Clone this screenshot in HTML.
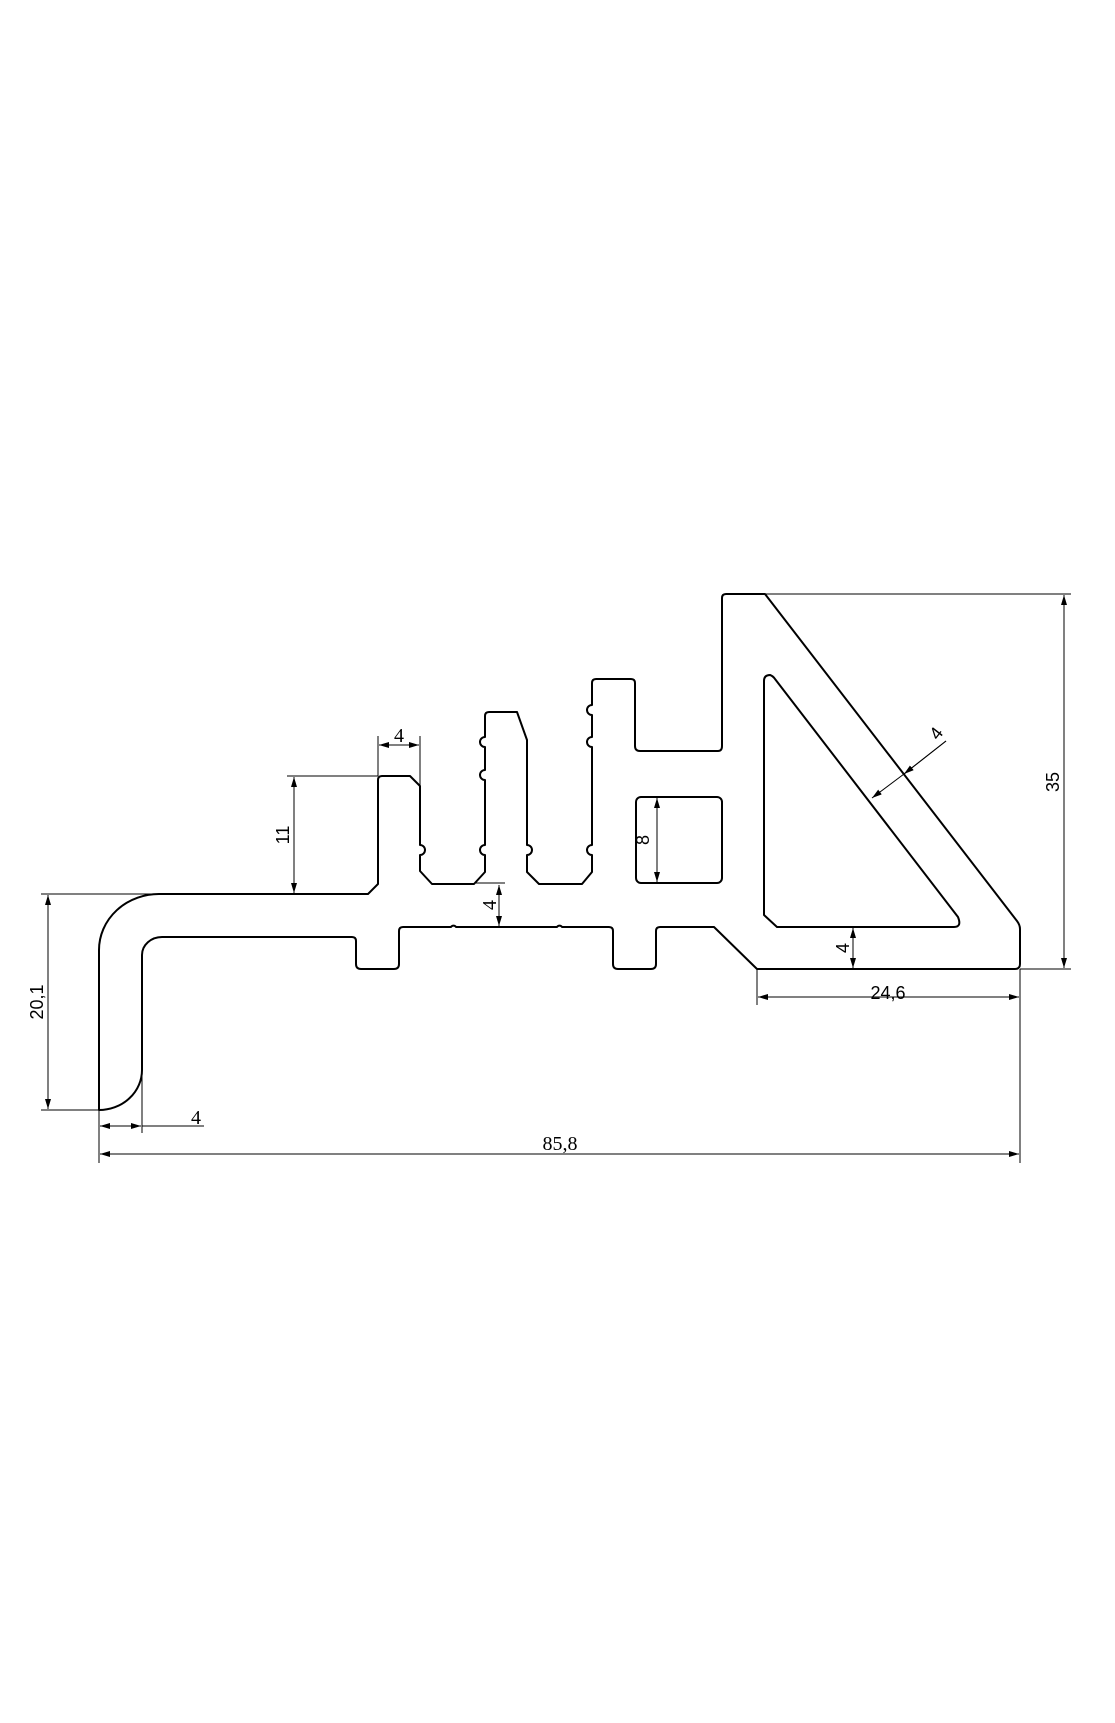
<!DOCTYPE html>
<html><head><meta charset="utf-8"><style>
html,body{margin:0;padding:0;background:#fff;}
svg{display:block;}
.s{font-family:"Liberation Sans",sans-serif;font-size:18px;fill:#000;}
.r{font-family:"Liberation Serif",serif;font-size:20px;fill:#000;}
</style></head><body>
<svg width="1115" height="1723" viewBox="0 0 1115 1723" xmlns="http://www.w3.org/2000/svg">
<defs>
<marker id="a" viewBox="0 0 10 6" refX="10" refY="3" markerWidth="10" markerHeight="6" markerUnits="userSpaceOnUse" orient="auto-start-reverse"><path d="M0 0 L10 3 L0 6 Z" fill="#000"/></marker>
</defs>
<g fill="none" stroke="#000" stroke-width="2" stroke-linejoin="round">
<path d="M99 1110 L99 950 A60 56 0 0 1 160 894 L368 894 L378 884 L378 780 Q378 776 382 776 L410 776 L420 786 L420 845 A5 5 0 0 1 420 855 L420 871 L432 884 L474 884 L485 872 L485 855 A5 5 0 0 1 485 845 L485 780 A5 5 0 0 1 485 770 L485 747 A5 5 0 0 1 485 737 L485 716 Q485 712 489 712 L517 712 L527 740 L527 845 A5 5 0 0 1 527 855 L527 872 L539 884 L582 884 L592 872 L592 855 A5 5 0 0 1 592 845 L592 747 A5 5 0 0 1 592 737 L592 715 A5 5 0 0 1 592 705 L592 683 Q592 679 596 679 L631 679 Q635 679 635 683 L635 746 Q635 751 640 751 L718 751 Q722 751 722 746 L722 598 Q722 594 726 594 L765 594 L1017 921 Q1020 925 1020 929 L1020 964 Q1020 969 1015 969 L757 969 L714 927 L660 927 Q656 927 656 931 L656 964 Q656 969 651 969 L618 969 Q613 969 613 964 L613 931 Q613 927 609 927 L562 927 A3 3 0 0 0 557 927 L456 927 A3 3 0 0 0 451 927 L403 927 Q399 927 399 931 L399 964 Q399 969 394 969 L361 969 Q356 969 356 964 L356 941 Q356 937 352 937 L162 937 A20 18 0 0 0 142 955 L142 1070 A43 40 0 0 1 99 1110 Z"/>
<rect x="636" y="797" width="86" height="86" rx="5"/>
<path d="M764 681 Q764 675 770 675 Q773 676 775 679 L958 917 Q962 927 954 927 L777 927 L764 915 Z"/>
</g>
<g stroke="#000" stroke-width="1" fill="none">
<!-- top 4 -->
<line x1="378" y1="736" x2="378" y2="776"/><line x1="420" y1="736" x2="420" y2="786"/>
<line x1="379" y1="745" x2="419" y2="745" marker-start="url(#a)" marker-end="url(#a)"/>
<!-- 11 -->
<line x1="287" y1="776" x2="378" y2="776"/>
<line x1="294" y1="777" x2="294" y2="893" marker-start="url(#a)" marker-end="url(#a)"/>
<!-- 4 web -->
<line x1="474" y1="883" x2="505" y2="883"/>
<line x1="499" y1="885" x2="499" y2="926" marker-start="url(#a)" marker-end="url(#a)"/>
<!-- 8 -->
<line x1="657" y1="798" x2="657" y2="882" marker-start="url(#a)" marker-end="url(#a)"/>
<!-- diag 4 -->
<line x1="946" y1="741" x2="904" y2="774"/>
<line x1="904" y1="774" x2="872" y2="798" marker-end="url(#a)"/>
<line x1="946" y1="741" x2="904" y2="774" marker-end="url(#a)"/>
<!-- 4 triangle bottom -->
<line x1="853" y1="928" x2="853" y2="968" marker-start="url(#a)" marker-end="url(#a)"/>
<!-- 35 -->
<line x1="765" y1="594" x2="1071" y2="594"/><line x1="1020" y1="969" x2="1071" y2="969"/>
<line x1="1064" y1="595" x2="1064" y2="968" marker-start="url(#a)" marker-end="url(#a)"/>
<!-- 24,6 -->
<line x1="757" y1="969" x2="757" y2="1005"/><line x1="1020" y1="969" x2="1020" y2="1163"/>
<line x1="758" y1="997" x2="1019" y2="997" marker-start="url(#a)" marker-end="url(#a)"/>
<!-- 20,1 -->
<line x1="41" y1="894" x2="160" y2="894"/><line x1="41" y1="1110" x2="99" y2="1110"/>
<line x1="48" y1="895" x2="48" y2="1109" marker-start="url(#a)" marker-end="url(#a)"/>
<!-- 4 bottom -->
<line x1="99" y1="1110" x2="99" y2="1163"/><line x1="142" y1="1070" x2="142" y2="1133"/>
<line x1="100" y1="1126" x2="141" y2="1126" marker-start="url(#a)" marker-end="url(#a)"/>
<line x1="142" y1="1126" x2="204" y2="1126"/>
<!-- 85,8 -->
<line x1="100" y1="1154" x2="1019" y2="1154" marker-start="url(#a)" marker-end="url(#a)"/>
</g>
<g>
<text class="r" x="399" y="742" text-anchor="middle">4</text>
<text class="s" transform="translate(289,835) rotate(-90)" text-anchor="middle">11</text>
<text class="r" transform="translate(496,905) rotate(-90)" text-anchor="middle">4</text>
<text class="s" transform="translate(649,840) rotate(-90)" text-anchor="middle">8</text>
<text class="s" transform="translate(941,737) rotate(-52)" text-anchor="middle">4</text>
<text class="s" transform="translate(849,948) rotate(-90)" text-anchor="middle">4</text>
<text class="s" transform="translate(1059,782) rotate(-90)" text-anchor="middle">35</text>
<text class="s" x="888" y="999" text-anchor="middle">24,6</text>
<text class="s" transform="translate(43,1002) rotate(-90)" text-anchor="middle">20,1</text>
<text class="r" x="196" y="1124" text-anchor="middle">4</text>
<text class="r" x="560" y="1150" text-anchor="middle">85,8</text>
</g>
</svg>
</body></html>
